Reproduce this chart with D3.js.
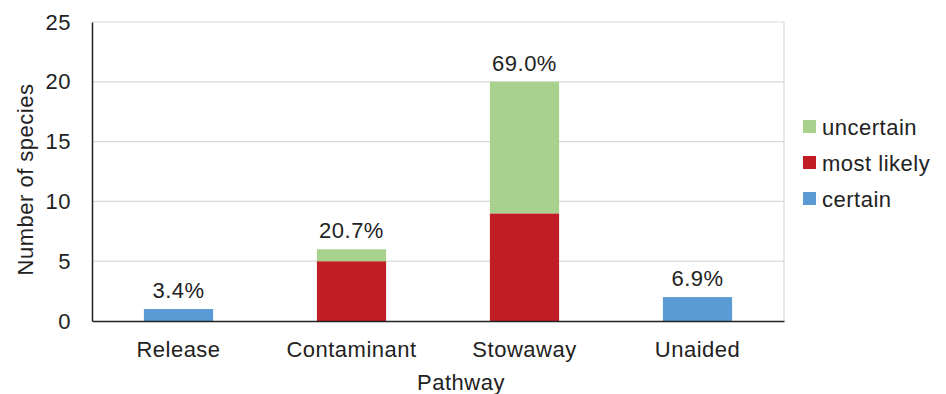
<!DOCTYPE html>
<html>
<head>
<meta charset="utf-8">
<script src="https://cdn.jsdelivr.net/npm/d3@7"></script>
<style>
  body { margin: 0; background: #fff; }
  svg { display: block; font-family: "Liberation Sans", Arial, sans-serif; }
  svg text { letter-spacing: 0.5px; }
</style>
</head>
<body>
<svg id="chart" width="946" height="394"></svg>
<script>
// Species counts per introduction pathway, stacked by certainty level
const pathways = ["Release", "Contaminant", "Stowaway", "Unaided"];
const certain = [1, 0, 0, 2];
const mostLikely = [0, 5, 9, 0];
const uncertain = [0, 1, 11, 0];
const seriesNames = ["certain", "most likely", "uncertain"];
const seriesColors = ["#5B9BD5", "#C01E24", "#A9D18E"];
const yTicks = [0, 5, 10, 15, 20, 25];

const FONT = 22;
const svg = d3.select("#chart");
const margin = { left: 92, right: 162, top: 22, bottom: 73 };
const W = 946, H = 394;
const innerW = W - margin.left - margin.right;
const innerH = H - margin.top - margin.bottom;

const rows = pathways.map((p, i) => ({
  pathway: p,
  "certain": certain[i],
  "most likely": mostLikely[i],
  "uncertain": uncertain[i]
}));
const totals = rows.map(r => r.certain + r["most likely"] + r.uncertain);
const grand = d3.sum(totals);

const x = d3.scaleBand().domain(pathways)
  .range([margin.left, margin.left + innerW])
  .paddingInner(0.6).paddingOuter(0.3);
const y = d3.scaleLinear().domain([0, 25]).range([margin.top + innerH, margin.top]);
const color = d3.scaleOrdinal().domain(seriesNames).range(seriesColors);

// Gridlines
svg.append("g")
  .selectAll("line").data(yTicks.filter(d => d > 0)).join("line")
  .attr("x1", margin.left).attr("x2", margin.left + innerW)
  .attr("y1", d => y(d)).attr("y2", d => y(d))
  .attr("stroke", "#d9d9d9").attr("stroke-width", 1.2);

// Right frame edge
svg.append("line")
  .attr("x1", margin.left + innerW).attr("x2", margin.left + innerW)
  .attr("y1", margin.top).attr("y2", margin.top + innerH)
  .attr("stroke", "#d9d9d9").attr("stroke-width", 1.2);

// Stacked bars
const stack = d3.stack().keys(seriesNames)(rows);
svg.append("g")
  .selectAll("g").data(stack).join("g")
  .attr("fill", d => color(d.key))
  .selectAll("rect").data(d => d).join("rect")
  .attr("x", d => x(d.data.pathway))
  .attr("width", x.bandwidth())
  .attr("y", d => y(d[1]))
  .attr("height", d => y(d[0]) - y(d[1]));

// Share of all species above each bar
svg.append("g")
  .selectAll("text").data(rows).join("text")
  .attr("x", d => x(d.pathway) + x.bandwidth() / 2)
  .attr("y", (d, i) => y(totals[i]) - 11)
  .attr("text-anchor", "middle")
  .attr("font-size", FONT).attr("fill", "#222")
  .text((d, i) => (totals[i] / grand * 100).toFixed(1) + "%");

// Y axis
const yAxis = svg.append("g")
  .attr("transform", `translate(${margin.left},0)`)
  .call(d3.axisLeft(y).tickValues(yTicks).tickSize(0).tickPadding(21));
yAxis.select(".domain").attr("stroke", "#222").attr("stroke-width", 1.5);
yAxis.selectAll("text").attr("font-size", FONT).attr("fill", "#222")
  .attr("font-family", "Liberation Sans, Arial, sans-serif");

// X axis
const xAxis = svg.append("g")
  .attr("transform", `translate(0,${margin.top + innerH})`)
  .call(d3.axisBottom(x).tickSize(0).tickPadding(20));
xAxis.select(".domain").attr("stroke", "#222").attr("stroke-width", 1.5);
xAxis.selectAll("text").attr("font-size", FONT).attr("fill", "#222")
  .attr("font-family", "Liberation Sans, Arial, sans-serif");

// Axis titles
svg.append("text")
  .attr("x", 461).attr("y", 390)
  .attr("text-anchor", "middle").attr("font-size", FONT).attr("fill", "#222")
  .text("Pathway");
svg.append("text")
  .attr("transform", `translate(33,${margin.top + innerH / 2 + 8}) rotate(-90)`)
  .attr("text-anchor", "middle").attr("font-size", FONT).attr("fill", "#222")
  .text("Number of species");

// Legend, top entry is the top of the stack
const legendItems = seriesNames.slice().reverse();
const legend = svg.append("g").attr("transform", "translate(803,120)");
const li = legend.selectAll("g").data(legendItems).join("g")
  .attr("transform", (d, i) => `translate(0,${i * 36})`);
li.append("rect").attr("width", 13).attr("height", 13).attr("fill", d => color(d));
li.append("text").attr("x", 19).attr("y", 7).attr("dy", "0.36em")
  .attr("font-size", FONT).attr("fill", "#222").text(d => d);
</script>
</body>
</html>
